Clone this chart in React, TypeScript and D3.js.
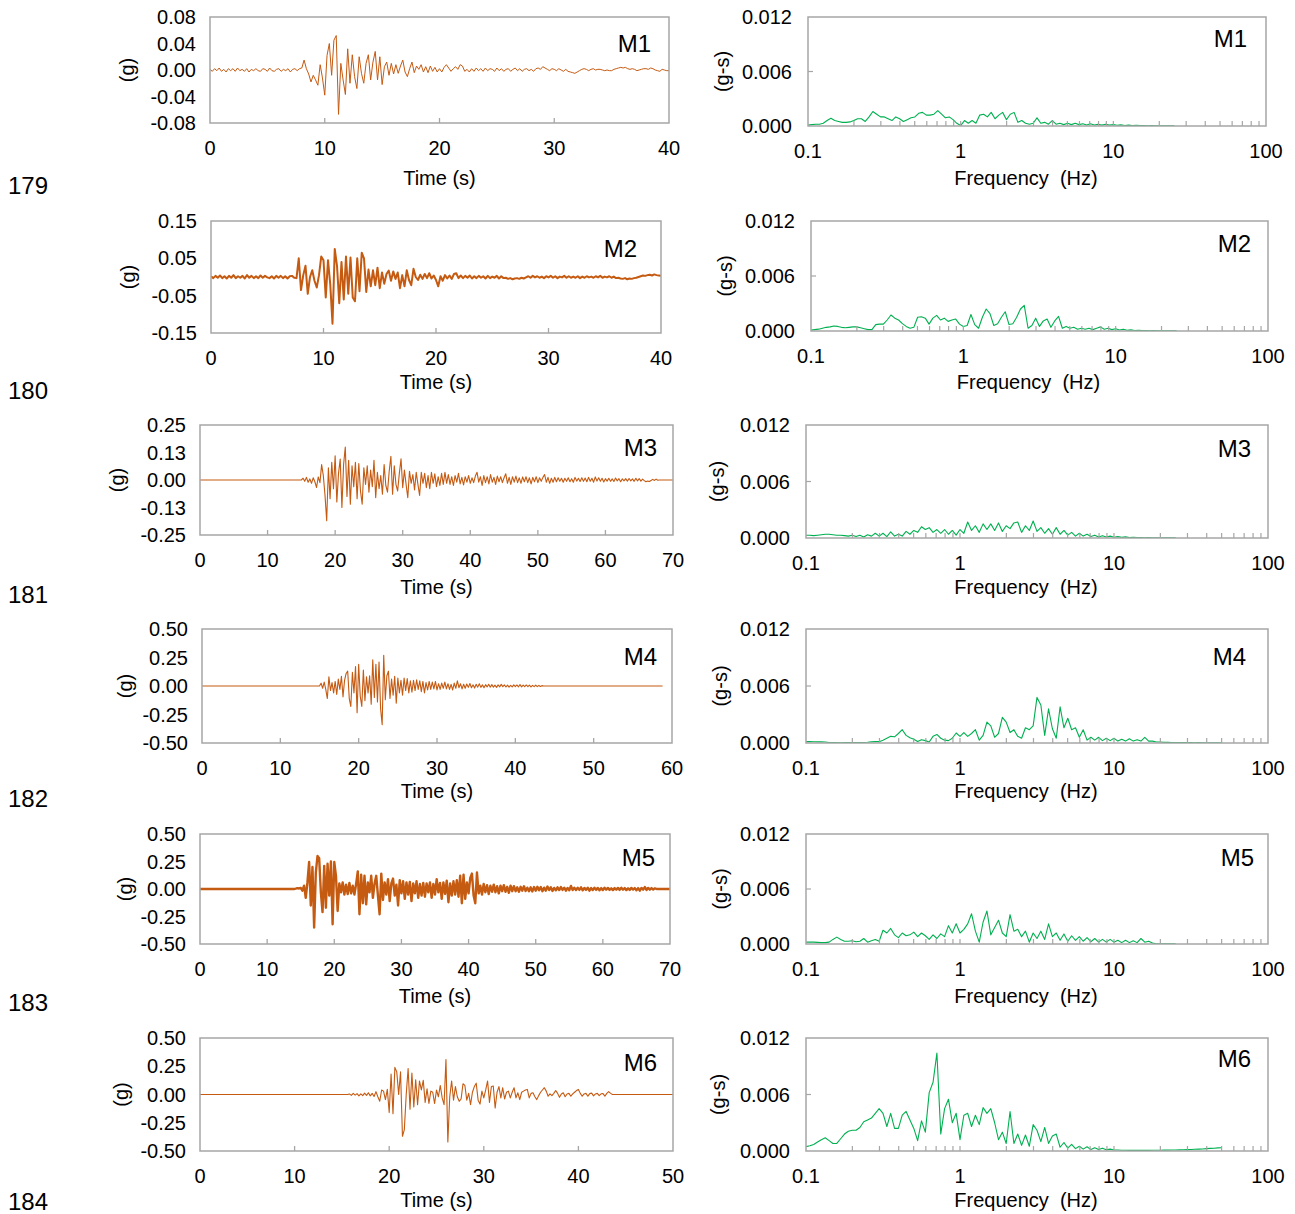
import React from 'react';
import * as d3 from 'd3';

// ---------------- DATA ----------------
// Acceleration time histories, values in milli-g, uniform sampling (t0, dt)
const M1_T0 = 0;
const M1_DT = 0.2;
const M1_ACC = [
  1,-2,2,-1,3,-2,1,-3,2,-1, 2,-2,3,-1,1,-2,2,-3,1,-1, 2,-1,-2,2,1,-2,3,-1,-2,1, 2,-2,1,-1,2,-3,1,2,-1,2,
  3,15,2,-6,-18,-8,-15,-23,8,-12, -38,22,40,-8,45,52,-67,10,-15,-37, 32,-20,23,-10,-28,20,-5,-20,10,23, -15,12,28,-15,20,
  -22,5,12,-8,10,-6,8,-5,6,15, -3,-10,2,12,-4,6,1,8,-3,5, -4,6,-2,4,-3,
  2,-3,4,8,3,-2,2,5,1,8, 6,-2,1,-3,2,-2,3,-1,2,-2, 3,-1,2,1,-2,3,-1,2,-2,1, 2,-2,1,3,-1,2,-2,1,2,-1,
  1,-2,2,3,1,5,3,1,-1,2, 1,-1,2,0,-2,1,-2,-3,-4,-5, -3,-1,1,2,1,-1,1,2,0,1, 1,0,-1,0,-1,-1,1,2,3,4,
  3,4,2,1,2,1,-1,0,1,2, 2,1,3,2,0,-1,-2,1,0,-1, -1,
];

const M2_T0 = 0;
const M2_DT = 0.2;
const M2_ACC = [
  2,-3,3,-2,4,-3,2,-4,3,-2, 5,-3,2,-2,3,-4,5,-2,3,-3, 2,-3,4,-2,3,-1,-3,2,-4,3, -2,3,-3,2,-4,2,3,-2,-3,
  50,-35,5,30,-45,0,18,-10,-28,5, 55,45,-55,45,-20,-125,75,30,-70,40, -60,55,-45,52,-55,-65,50,-38,65,50,
  -40,20,-25,18,-22,25,-30,12,-18,8, 17,
  -10,15,-5,12,-30,5,-25,18,-8,-22, 22,0,-8,6,-5,8,-3,10,-4,4, -8,-25,2,-10,5,-4,4,-5,8,10, -3,
  4,-3,3,-2,4,-4,2,-3,3,-2, 2,-4,3,-3,1,-2,3,-4,2,-3, -2,-5,-3,-6,-4,-3,-5,-2,-4,-1, 2,-2,3,-1,2,-2,1,-3,2,-1,
  3,-2,2,-3,1,-1,3,-2,2,-2, 1,-2,2,-3,1,-2,2,-1,1,-2, 2,-1,3,-2,1,-1,2,-2,1,-3, -2,-4,-5,-3,-6,-4,-5,-3,-2,0,
  2,4,3,5,6,4,7,5,4,3,
];

const M3_T0 = 15;
const M3_DT = 0.25;
const M3_LEAD: [number, number][] = [[0, 0]];
const M3_TAIL: [number, number][] = [[70, 0]];
const M3_ACC = [
  0,8,-6,12,-10,5,-15,10,-8,-34,14,-12,
  70,20,-70,-185,55,-85,80,-40,110,-100,30,95,
  -125,70,150,-75,90,-110,65,-30,80,-85,75,-50,
  -110,55,-20,65,-55,45,-30,90,-80,35,-40,20,
  -65,70,-25,-55,40,108,-65,65,-20,-50,30,96,
  -35,45,-20,-80,40,-15,25,-45,35,-20,-70,35,
  -15,30,-35,20,-40,35,-15,28,-30,15,-25,30,
  -20,35,-15,25,-20,15,-25,20,-10,30,-18,12,
  -22,15,-10,20,-15,10,-12,18,35,-10,15,-25,
  20,-12,15,-18,25,-10,12,-20,18,-8,15,-12,
  10,28,-15,12,-20,15,-10,18,-12,10,-15,14,
  -8,15,-12,10,-18,12,-8,15,-12,10,-6,12,
  25,-10,12,-15,8,-10,12,-8,10,-6,8,-10,
  8,-6,10,-8,6,-10,12,-5,8,-7,10,-6,
  9,-8,12,-6,8,-10,14,-5,10,-6,8,-9,
  6,-5,8,-6,5,-7,9,-4,6,-8,5,-4,
  6,-5,7,-4,5,-6,8,-4,6,-5,4,-3,
  -8,-5,-7,-2,3,-2,4,-1,0,
];

const M4_T0 = 15;
const M4_DT = 0.2;
const M4_LEAD: [number, number][] = [[0, 0]];
const M4_TAIL: [number, number][] = [[58.8, 0]];
const M4_ACC = [
  0,25,-20,35,-30,-110,80,-40,30,-60,
  40,-75,60,-30,85,-95,50,110,130,-110,
  -180,120,-60,170,-235,190,-90,-180,140,-130,
  80,-60,90,-160,230,-100,190,-140,210,-200,
  -340,270,-120,90,130,-110,60,-80,85,-150,
  70,-60,50,-80,70,-40,65,-60,45,-55,
  50,-40,55,-30,45,-50,40,-60,30,-35,
  40,-30,35,-25,40,-35,20,-30,25,-20,
  35,-25,20,-30,15,-35,25,-20,45,-15,
  20,-25,15,-20,18,-12,22,-15,10,-18,
  15,-10,20,-12,10,-15,12,-8,15,-10,
  12,-10,8,-12,10,-8,14,-6,10,-9,
  8,-10,6,-8,10,-6,9,-7,12,-8,
  7,-6,9,-5,8,-7,6,-5,8,-6,
  5,-4,3,0,
];

const M5_T0 = 14;
const M5_DT = 0.25;
const M5_LEAD: [number, number][] = [[0, 0]];
const M5_TAIL: [number, number][] = [[70, 0]];
const M5_ACC = [
  0,3,8,5,10,-15,30,-80,60,245,-150,200,
  -350,150,300,280,-30,-210,210,-170,230,-60,250,-320,
  245,120,-200,50,-30,60,-50,40,-45,55,-40,30,
  -50,45,160,-230,130,-130,120,-140,60,-30,120,-80,
  50,120,-60,-230,140,-100,60,-50,90,-110,50,95,
  -60,40,-150,80,-40,70,-90,60,-50,65,-110,50,
  -40,70,-80,45,-60,55,-70,50,-30,60,-80,45,
  -50,90,-30,55,-90,60,-45,75,-120,50,-60,70,
  -50,80,-70,120,-130,130,-90,60,-40,100,140,-60,
  -130,150,-40,30,-50,45,-30,35,-45,30,-25,40,
  -30,25,-40,30,-20,35,-25,20,-35,30,-20,25,
  -20,15,-25,20,-15,25,-18,12,-20,15,-22,18,
  -15,20,-12,18,-20,12,-15,22,-10,15,-18,10,
  -12,15,-10,18,-8,12,-15,10,-12,28,-10,12,
  -10,12,-8,15,-12,10,-8,12,-15,8,-10,12,
  -8,10,-12,8,-10,12,-6,10,-8,6,-10,8,
  -6,10,-8,12,-6,8,-10,6,-8,10,-5,8,
  -12,8,-15,10,-6,18,-8,10,-6,8,-5,6,
  0,
];

const M6_T0 = 15.6;
const M6_DT = 0.2;
const M6_LEAD: [number, number][] = [[0, 0]];
const M6_TAIL: [number, number][] = [[50, 0]];
const M6_ACC = [
  0,5,-8,10,-5,8,-12,6,-10,12,
  -8,15,-12,10,-18,25,-20,-60,40,30,
  -45,45,-160,180,-170,240,200,0,200,-370,
  -310,0,230,-130,190,-110,130,-90,120,40,
  125,-70,50,-80,30,20,-80,40,-20,80,
  -30,-90,310,-420,-20,120,-50,70,-20,-60,
  -40,95,80,-50,10,-90,20,70,100,-50,
  -85,30,-30,40,120,-70,70,75,-120,20,
  70,-30,60,-40,20,30,-30,20,60,-30,
  15,-45,20,30,40,45,-30,10,15,-20,
  -45,-10,20,40,60,30,-15,5,-10,10,
  35,10,-25,5,15,-20,5,10,-15,5,
  20,35,45,10,-15,5,10,-15,8,12,
  -12,5,10,-10,6,8,-15,10,25,10,
  0,
];

// Fourier amplitude spectra, values in 1e-4 g-s, sampled on a log grid from 0.1 Hz, 40 steps per decade
const SPEC_F0 = 0.1;
const SPEC_STEPS_PER_DECADE = 40;
const S1_AMP = [
  1,1.5,2,2,3,6,8.5,6,5,4, 4,4.5,6,8,8,5,10,16,13,10, 10,8,6,10,8,5,7,9,10,14,
  15,12,12,13,17,13,9,10,7,3, 0.5,6,3,6,3,12,13,10,15,8, 12,15,7,13,15,4,6,3,2,3,
  9,3,4,2,6,2,3,1.5,3,1.5, 3,1.5,2.5,1,2.5,1,2,1,2,1, 1.5,0.8,1.2,0.6,1,0.5,0.8,0.4,0.6,0.3,
  0.4,0.3,0.2,0.3,0.2,0.2,0.2,
];
const S2_AMP = [
  1,1.5,2,3,4,4.5,5.5,5,4,3.5, 4,4.5,4.5,3.5,2.5,1.5,1.5,7,7.5,7.5, 12,17.5,14,12,8,5,3,4,15,15.5,
  14,7.5,14,17,12,14,10.5,12,13,7.5, 5,6,18,7,3,15,24,19,6,8, 15,21,7,8,15,24,28,3,6,14,
  5,11,13,4,11,16,3,5,3,4, 2,3,2,3,1.5,3,4.5,2,3,1.5, 2.5,1,2,0.8,1.2,0.6,0.8,0.4,0.6,0.3,
  0.4,0.3,0.3,0.2,0.3,0.2,0.2,
];
const S3_AMP = [
  3,3,2.5,3,3.5,4,4,3.5,3,3, 2.5,2,3,1.5,3,1,3.5,2,5,2, 5,1.5,6.5,2,4,2,7,4,8,6,
  12,9,11,6,9,5,9,4,8,3, 9,5,17,8,13,6,15,9,15,8, 16,7,13,10,16,17,6,13,8,18,
  7,11,5,10,4,11,4,8,3,6, 2,5,2,4,1.5,3,1,2.5,1,2, 0.8,1.5,0.7,1.2,0.5,0.8,0.4,0.5,0.3,0.4,
  0.3,0.3,0.2,0.3,0.2,0.2,0.2,
];
const S4_AMP = [
  1.4,1.4,1.3,1.2,1.2,1,0.5,0.4,0.4,0.3, 0.4,0.4,0.5,0.5,0.6,0.6,0.8,1.2,1.4,1.4, 3,5,7,6.5,10,14,8,5.5,4,1.5,
  3.5,2.5,1,7,9,5,3,2.5,5,10.5, 7,11,7,10,14,3,8,22,18,6, 10,27,22,11,14,7,5,16,14,18,
  48,40,8,36,15,5,38,16,26,14, 16,6,14,3,6,3,6,2.5,5,2.5, 5,2,4,2,4.5,2,3.5,2,6,2,
  2,1,1,0.7,0.8,0.6,0.6,0.5,0.5,0.4, 0.4,0.3,0.4,0.3,0.3,0.3,0.3,0.3,0.3,
];
const S5_AMP = [
  2,2,2,1.8,1.5,1.5,2,5,7.5,5, 3,3,3.5,2.5,3,6,2,3.5,5,3, 15,12,17,10,7,12,9,10,13,8,
  12,9,5,10,6,11,8,20,12,22, 12,16,22,33,14,2,24,36,10,18, 26,12,8,32,14,16,8,14,2,12,
  6,14,5,22,8,12,4,11,3,9, 4,8,3,7,2.5,6,2,5,2,5, 2,4,1.5,4,1.5,3.5,1.5,6,2,3,
  1,0.3,0.3,0.3,0.3,0.3,0.3,
];
const S6_AMP = [
  4.6,5.5,7,9.5,12,14,11,8,8,13, 18,21,22,22,25,31,33,35,40,45, 40,26,40,24,24,38,42,33,24,11,
  32,20,62,73,104,18,45,55,30,40, 12,38,40,26,38,28,46,40,45,30, 12,20,8,42,8,18,6,17,5,28,
  22,10,25,8,16,18,4,9,3,7, 2.5,5,2,4.5,1.5,3.5,1.5,3,1.2,2, 1,1,0.8,0.8,0.7,0.7,0.7,0.7,0.7,0.7,
  0.8,0.8,0.8,0.9,0.9,1,1,1.2,1.3,1.5, 1.6,1.8,2,2.2,2.5,2.8,3,3.3,3.5,
];

// Axis ticks
const TICKS_40 = [0, 10, 20, 30, 40];
const TICKS_50 = [0, 10, 20, 30, 40, 50];
const TICKS_60 = [0, 10, 20, 30, 40, 50, 60];
const TICKS_70 = [0, 10, 20, 30, 40, 50, 60, 70];
const M1_YTICKS = [0.08, 0.04, 0, -0.04, -0.08];
const M1_YLABELS = ['0.08', '0.04', '0.00', '-0.04', '-0.08'];
const M2_YTICKS = [0.15, 0.05, -0.05, -0.15];
const M2_YLABELS = ['0.15', '0.05', '-0.05', '-0.15'];
const M3_YTICKS = [0.25, 0.125, 0, -0.125, -0.25];
const M3_YLABELS = ['0.25', '0.13', '0.00', '-0.13', '-0.25'];
const HALF_YTICKS = [0.5, 0.25, 0, -0.25, -0.5];
const HALF_YLABELS = ['0.50', '0.25', '0.00', '-0.25', '-0.50'];
const SPEC_YTICKS = [0, 0.006, 0.012];
const SPEC_YLABELS = ['0.000', '0.006', '0.012'];
const SPEC_XTICKS = [0.1, 1, 10, 100];
const SPEC_XLABELS = ['0.1', '1', '10', '100'];
const RECORD_NAMES = ['M1', 'M2', 'M3', 'M4', 'M5', 'M6'];
const ROW_NUMBERS = ['179', '180', '181', '182', '183', '184'];

// ---------------- STYLE / LAYOUT ----------------
const FONT = '"Liberation Sans", Arial, Helvetica, sans-serif';
const ORANGE = '#c55a11';
const GREEN = '#00b050';
const FRAME = '#a6a6a6';
const TICK_FS = 20;
const TITLE_FS = 20;
const NAME_FS = 24;

type Pt = [number, number];

type TimePanel = {
  name: string; acc: number[]; t0: number; dt: number; lead: Pt[]; tail: Pt[];
  xMax: number; xTicks: number[]; yMax: number; yTicks: number[]; yLabels: string[];
  box: [number, number, number, number]; lw: number; titleY: number; yLabX: number; nameX: number; nameY: number;
};

type SpecPanel = {
  name: string; amp: number[]; box: [number, number, number, number]; titleY: number; yLabX: number; nameX: number; nameY: number;
};

const TIME_PANELS: TimePanel[] = [
  { name: RECORD_NAMES[0], acc: M1_ACC, t0: M1_T0, dt: M1_DT, lead: [], tail: [], xMax: 40, xTicks: TICKS_40, yMax: 0.08, yTicks: M1_YTICKS, yLabels: M1_YLABELS, box: [210, 669, 17, 123], lw: 1, titleY: 178, yLabX: 127, nameX: 651, nameY: 43 },
  { name: RECORD_NAMES[1], acc: M2_ACC, t0: M2_T0, dt: M2_DT, lead: [], tail: [], xMax: 40, xTicks: TICKS_40, yMax: 0.15, yTicks: M2_YTICKS, yLabels: M2_YLABELS, box: [211, 661, 221, 333], lw: 2, titleY: 382, yLabX: 128, nameX: 637, nameY: 248 },
  { name: RECORD_NAMES[2], acc: M3_ACC, t0: M3_T0, dt: M3_DT, lead: M3_LEAD, tail: M3_TAIL, xMax: 70, xTicks: TICKS_70, yMax: 0.25, yTicks: M3_YTICKS, yLabels: M3_YLABELS, box: [200, 673, 425, 535], lw: 1.1, titleY: 587, yLabX: 117, nameX: 657, nameY: 447 },
  { name: RECORD_NAMES[3], acc: M4_ACC, t0: M4_T0, dt: M4_DT, lead: M4_LEAD, tail: M4_TAIL, xMax: 60, xTicks: TICKS_60, yMax: 0.5, yTicks: HALF_YTICKS, yLabels: HALF_YLABELS, box: [202, 672, 629, 743], lw: 1.1, titleY: 791, yLabX: 125, nameX: 657, nameY: 656 },
  { name: RECORD_NAMES[4], acc: M5_ACC, t0: M5_T0, dt: M5_DT, lead: M5_LEAD, tail: M5_TAIL, xMax: 70, xTicks: TICKS_70, yMax: 0.5, yTicks: HALF_YTICKS, yLabels: HALF_YLABELS, box: [200, 670, 834, 944], lw: 2.4, titleY: 996, yLabX: 125, nameX: 655, nameY: 857 },
  { name: RECORD_NAMES[5], acc: M6_ACC, t0: M6_T0, dt: M6_DT, lead: M6_LEAD, tail: M6_TAIL, xMax: 50, xTicks: TICKS_50, yMax: 0.5, yTicks: HALF_YTICKS, yLabels: HALF_YLABELS, box: [200, 673, 1038, 1151], lw: 1.1, titleY: 1200, yLabX: 121, nameX: 657, nameY: 1062 },
];

const SPEC_PANELS: SpecPanel[] = [
  { name: RECORD_NAMES[0], amp: S1_AMP, box: [808, 1266, 17, 126], titleY: 178, yLabX: 722, nameX: 1247, nameY: 38 },
  { name: RECORD_NAMES[1], amp: S2_AMP, box: [811, 1268, 221, 331], titleY: 382, yLabX: 725, nameX: 1251, nameY: 243 },
  { name: RECORD_NAMES[2], amp: S3_AMP, box: [806, 1268, 425, 538], titleY: 587, yLabX: 717, nameX: 1251, nameY: 448 },
  { name: RECORD_NAMES[3], amp: S4_AMP, box: [806, 1268, 629, 743], titleY: 791, yLabX: 720, nameX: 1246, nameY: 656 },
  { name: RECORD_NAMES[4], amp: S5_AMP, box: [806, 1268, 834, 944], titleY: 996, yLabX: 720, nameX: 1254, nameY: 857 },
  { name: RECORD_NAMES[5], amp: S6_AMP, box: [806, 1268, 1038, 1151], titleY: 1200, yLabX: 718, nameX: 1251, nameY: 1058 },
];

const ROW_LABEL_Y = [185, 390, 594, 798, 1002, 1201];

function TimeChart({ p, idx }: { p: TimePanel; idx: number }) {
  const [x0, x1, y0, y1] = p.box;
  const x = d3.scaleLinear().domain([0, p.xMax]).range([x0, x1]);
  const y = d3.scaleLinear().domain([-p.yMax, p.yMax]).range([y1, y0]);
  const pts: Pt[] = [
    ...p.lead,
    ...p.acc.map((v, i) => [p.t0 + i * p.dt, v / 1000] as Pt),
    ...p.tail,
  ];
  const line = d3.line<Pt>().x((d) => x(d[0])).y((d) => y(d[1]));
  const clipId = `tclip${idx}`;
  return (
    <g>
      <defs>
        <clipPath id={clipId}>
          <rect x={x0} y={y0} width={x1 - x0} height={y1 - y0} />
        </clipPath>
      </defs>
      <rect x={x0} y={y0} width={x1 - x0} height={y1 - y0} fill="#fff" stroke="none" />
      <path d={line(pts) || ''} fill="none" stroke={ORANGE} strokeWidth={p.lw} strokeLinejoin="round" clipPath={`url(#${clipId})`} />
      <rect x={x0} y={y0} width={x1 - x0} height={y1 - y0} fill="none" stroke={FRAME} strokeWidth={1.5} />
      {p.xTicks.slice(1, -1).map((t) => (
        <line key={`xt${t}`} x1={x(t)} x2={x(t)} y1={y1} y2={y1 - 5} stroke={FRAME} strokeWidth={1.3} />
      ))}
      {p.xTicks.map((t) => (
        <text key={`xl${t}`} x={x(t)} y={y1 + 25} fontSize={TICK_FS} textAnchor="middle" dominantBaseline="central" fill="#000">{t}</text>
      ))}
      {p.yTicks.map((t, i) => (
        <text key={`yl${i}`} x={x0 - 14} y={y(t)} fontSize={TICK_FS} textAnchor="end" dominantBaseline="central" fill="#000">{p.yLabels[i]}</text>
      ))}
      <text x={(x0 + x1) / 2} y={p.titleY} fontSize={TITLE_FS} textAnchor="middle" dominantBaseline="central">Time (s)</text>
      <text transform={`translate(${p.yLabX},${(y0 + y1) / 2}) rotate(-90)`} fontSize={TITLE_FS} textAnchor="middle" dominantBaseline="central">(g)</text>
      <text x={p.nameX} y={p.nameY} fontSize={NAME_FS} textAnchor="end" dominantBaseline="central">{p.name}</text>
    </g>
  );
}

function SpecChart({ p, idx }: { p: SpecPanel; idx: number }) {
  const [x0, x1, y0, y1] = p.box;
  const x = d3.scaleLog().domain([0.1, 100]).range([x0, x1]);
  const y = d3.scaleLinear().domain([0, 0.012]).range([y1, y0]);
  const pts: Pt[] = p.amp.map((v, i) => [SPEC_F0 * Math.pow(10, i / SPEC_STEPS_PER_DECADE), v / 10000] as Pt);
  const line = d3.line<Pt>().x((d) => x(d[0])).y((d) => y(d[1]));
  const minor: number[] = [];
  [0.1, 1, 10].forEach((dec) => {
    for (let m = 1; m <= 9; m++) {
      const v = dec * m;
      if (v > 0.1 && v < 100) minor.push(v);
    }
  });
  const clipId = `sclip${idx}`;
  return (
    <g>
      <defs>
        <clipPath id={clipId}>
          <rect x={x0} y={y0} width={x1 - x0} height={y1 - y0} />
        </clipPath>
      </defs>
      <rect x={x0} y={y0} width={x1 - x0} height={y1 - y0} fill="#fff" stroke="none" />
      <path d={line(pts) || ''} fill="none" stroke={GREEN} strokeWidth={1.1} strokeLinejoin="round" clipPath={`url(#${clipId})`} />
      <rect x={x0} y={y0} width={x1 - x0} height={y1 - y0} fill="none" stroke={FRAME} strokeWidth={1.5} />
      {minor.map((t) => (
        <line key={`mt${t}`} x1={x(t)} x2={x(t)} y1={y1} y2={y1 - 5} stroke={FRAME} strokeWidth={1.2} />
      ))}
      <line x1={x0} x2={x0 + 5} y1={y(0.006)} y2={y(0.006)} stroke={FRAME} strokeWidth={1.2} />
      {SPEC_XTICKS.map((t, i) => (
        <text key={`xl${i}`} x={x(t)} y={y1 + 25} fontSize={TICK_FS} textAnchor="middle" dominantBaseline="central">{SPEC_XLABELS[i]}</text>
      ))}
      {SPEC_YTICKS.map((t, i) => (
        <text key={`yl${i}`} x={x0 - 16} y={y(t)} fontSize={TICK_FS} textAnchor="end" dominantBaseline="central">{SPEC_YLABELS[i]}</text>
      ))}
      <text x={(x0 + x1) / 2 - 11} y={p.titleY} fontSize={TITLE_FS} textAnchor="middle" dominantBaseline="central" style={{ whiteSpace: 'pre' }}>{'Frequency  (Hz)'}</text>
      <text transform={`translate(${p.yLabX},${(y0 + y1) / 2}) rotate(-90)`} fontSize={TITLE_FS} textAnchor="middle" dominantBaseline="central">(g-s)</text>
      <text x={p.nameX} y={p.nameY} fontSize={NAME_FS} textAnchor="end" dominantBaseline="central">{p.name}</text>
    </g>
  );
}

export default function App() {
  return (
    <div style={{ position: 'absolute', left: 0, top: 0 }}>
      <svg width={1295} height={1214} style={{ display: 'block', background: '#fff' }} fontFamily={FONT}>
        <rect x={0} y={0} width={1295} height={1214} fill="#fff" />
        {TIME_PANELS.map((p, i) => <TimeChart key={`t${i}`} p={p} idx={i} />)}
        {SPEC_PANELS.map((p, i) => <SpecChart key={`s${i}`} p={p} idx={i} />)}
        {ROW_NUMBERS.map((r, i) => (
          <text key={r} x={8} y={ROW_LABEL_Y[i]} fontSize={24} textAnchor="start" dominantBaseline="central">{r}</text>
        ))}
      </svg>
    </div>
  );
}
